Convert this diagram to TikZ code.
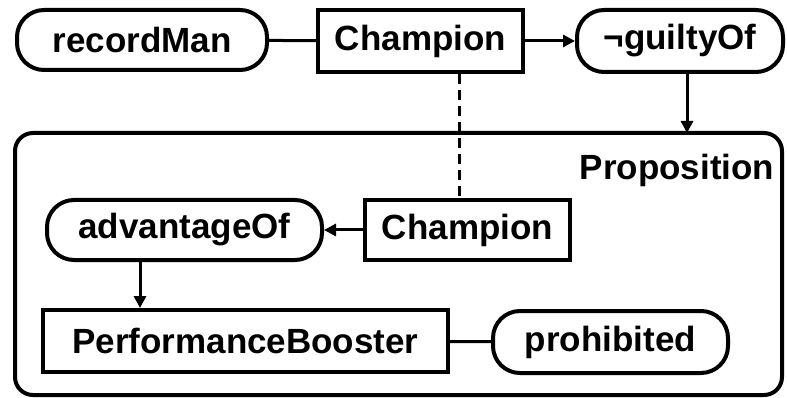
\documentclass[tikz,border=0pt]{standalone}
\usepackage{fontspec}
\setmainfont{Liberation Sans}
\usetikzlibrary{arrows.meta}
\begin{document}
\begin{tikzpicture}[x=1pt,y=-1pt,
  lbl/.style={font=\fontsize{35}{40}\selectfont\bfseries, inner sep=0pt},
  concept/.style={lbl, draw, line width=4pt, rectangle},
  relation/.style={lbl, draw, line width=4pt, rounded corners=27pt},
  conn/.style={line width=3pt},
  arr/.style={conn, -{Triangle[length=12pt,width=12pt]}},
]
\useasboundingbox (0,0) rectangle (787,398);
\draw[line width=4pt, rounded corners=18pt] (15,133) rectangle (782,395);
\node[lbl] (proplbl) at (677,170) {Proposition};
\node[relation, minimum width=250pt, minimum height=60pt] (rec) at (142,40) {recordMan};
\node[concept, minimum width=205pt, minimum height=62pt] (ch1) at (420.5,41) {Champion};
\node[relation, minimum width=206pt, minimum height=62pt] (guilty) at (680,41) {¬guiltyOf};
\node[concept, minimum width=205pt, minimum height=60pt] (ch2) at (467.5,230) {Champion};
\node[relation, minimum width=275pt, minimum height=60pt] (adv) at (184.5,230) {advantageOf};
\node[concept, minimum width=405pt, minimum height=62pt] (pb) at (245.5,341) {PerformanceBooster};
\node[relation, minimum width=235pt, minimum height=62pt] (proh) at (610.5,342) {prohibited};
\coordinate (proptop) at (687,133);
\draw[conn] (rec) -- (ch1);
\draw[arr] (ch1) -- (guilty);
\draw[arr] (guilty.south -| proptop) -- (proptop);
\draw[conn, dash pattern=on 10pt off 6pt] (ch1.south -| 459,0) -- (ch2.north -| 459,0);
\draw[arr] (ch2) -- (adv);
\draw[arr] (adv.south -| 140,0) -- (pb.north -| 140,0);
\draw[conn] (pb) -- (proh);
\end{tikzpicture}
\end{document}
